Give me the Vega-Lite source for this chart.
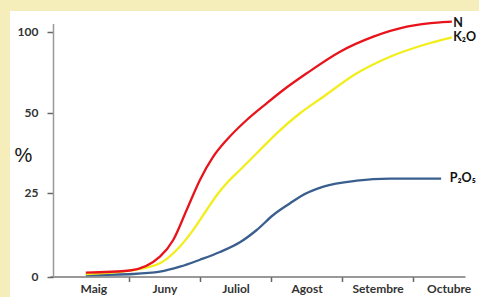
{
  "$schema": "https://vega.github.io/schema/vega-lite/v6.json",
  "width": 469,
  "height": 286,
  "autosize": {"type": "none"},
  "padding": {"left": 10, "top": 11, "right": 0, "bottom": 0},
  "background": "#f5eebb",
  "config": {
    "view": {"fill": "white", "stroke": null},
    "font": "Lato"
  },
  "datasets": {
    "curves": [
      {"series": "P₂O₅", "month": 5.394, "value": 0.45},
      {"series": "P₂O₅", "month": 6.061, "value": 0.75},
      {"series": "P₂O₅", "month": 6.437, "value": 1.43},
      {"series": "P₂O₅", "month": 6.718, "value": 2.92},
      {"series": "P₂O₅", "month": 7.0, "value": 5.0},
      {"series": "P₂O₅", "month": 7.282, "value": 7.3},
      {"series": "P₂O₅", "month": 7.563, "value": 10.2},
      {"series": "P₂O₅", "month": 7.799, "value": 13.87},
      {"series": "P₂O₅", "month": 8.032, "value": 18.35},
      {"series": "P₂O₅", "month": 8.268, "value": 21.84},
      {"series": "P₂O₅", "month": 8.408, "value": 23.81},
      {"series": "P₂O₅", "month": 8.737, "value": 26.87},
      {"series": "P₂O₅", "month": 9.207, "value": 28.74},
      {"series": "P₂O₅", "month": 9.676, "value": 29.36},
      {"series": "P₂O₅", "month": 10.394, "value": 29.36},
      {"series": "K₂O", "month": 5.394, "value": 0.75},
      {"series": "K₂O", "month": 6.014, "value": 1.73},
      {"series": "K₂O", "month": 6.437, "value": 3.94},
      {"series": "K₂O", "month": 6.672, "value": 7.91},
      {"series": "K₂O", "month": 6.906, "value": 13.93},
      {"series": "K₂O", "month": 7.094, "value": 19.84},
      {"series": "K₂O", "month": 7.258, "value": 24.82},
      {"series": "K₂O", "month": 7.376, "value": 27.93},
      {"series": "K₂O", "month": 7.563, "value": 32.08},
      {"series": "K₂O", "month": 7.799, "value": 37.28},
      {"series": "K₂O", "month": 8.08, "value": 43.52},
      {"series": "K₂O", "month": 8.408, "value": 49.76},
      {"series": "K₂O", "month": 8.737, "value": 59.75},
      {"series": "K₂O", "month": 9.207, "value": 74.2},
      {"series": "K₂O", "month": 9.676, "value": 84.44},
      {"series": "K₂O", "month": 10.145, "value": 91.67},
      {"series": "K₂O", "month": 10.545, "value": 96.42},
      {"series": "N", "month": 5.394, "value": 1.13},
      {"series": "N", "month": 6.014, "value": 1.79},
      {"series": "N", "month": 6.437, "value": 5.91},
      {"series": "N", "month": 6.624, "value": 10.89},
      {"series": "N", "month": 6.813, "value": 19.84},
      {"series": "N", "month": 7.0, "value": 28.96},
      {"series": "N", "month": 7.187, "value": 36.22},
      {"series": "N", "month": 7.376, "value": 41.43},
      {"series": "N", "month": 7.658, "value": 47.66},
      {"series": "N", "month": 7.939, "value": 55.68},
      {"series": "N", "month": 8.173, "value": 63.89},
      {"series": "N", "month": 8.503, "value": 74.2},
      {"series": "N", "month": 8.972, "value": 87.53},
      {"series": "N", "month": 9.441, "value": 96.79},
      {"series": "N", "month": 9.911, "value": 102.96},
      {"series": "N", "month": 10.38, "value": 105.68},
      {"series": "N", "month": 10.545, "value": 106.05}
    ],
    "labels": [
      {"label": "N", "month": 10.563, "value": 105.06},
      {"label": "K₂O", "month": 10.563, "value": 96.42},
      {"label": "P₂O₅", "month": 10.514, "value": 29.58}
    ]
  },
  "layer": [
    {
      "data": {"name": "curves"},
      "mark": {"type": "line", "interpolate": "monotone", "strokeWidth": 2.3},
      "encoding": {
        "x": {
          "field": "month",
          "type": "quantitative",
          "scale": {"domain": [4.89, 10.73], "range": [40, 455], "nice": false, "zero": false},
          "axis": {
            "orient": "bottom",
            "offset": -20.5,
            "title": null,
            "grid": false,
            "values": [5.5, 6, 6.5, 7, 7.5, 8, 8.5, 9, 9.5, 10, 10.5],
            "labelExpr": "datum.value % 1 === 0 ? '' : ['Maig','Juny','Juliol','Agost','Setembre','Octubre'][floor(datum.value) - 5]",
            "tickOpacity": {"condition": {"test": "datum.value % 1 !== 0", "value": 0}, "value": 1},
            "tickSize": 5,
            "tickColor": "#666",
            "tickWidth": 1.5,
            "domainColor": "#777",
            "domainWidth": 1.5,
            "labelFont": "Lato",
            "labelFontWeight": "bold",
            "labelFontSize": 12,
            "labelColor": "#333",
            "labelPadding": 2,
            "labelFlush": false,
            "labelOverlap": false,
            "labelBound": false
          }
        },
        "y": {
          "field": "value",
          "type": "quantitative",
          "scale": {"domain": [0, 25, 50, 100, 105], "range": [265.5, 181.7, 101.5, 20.5, 12.4], "nice": false, "zero": false},
          "axis": {
            "orient": "left",
            "offset": -43,
            "values": [0, 25, 50, 100],
            "grid": false,
            "title": "%",
            "titleAngle": 0,
            "titleFont": "Liberation Sans",
            "titleFontWeight": "normal",
            "titleFontSize": 20,
            "titleColor": "#111",
            "titleAlign": "center",
            "titleBaseline": "middle",
            "titleX": -30,
            "titleY": 144,
            "tickSize": 6,
            "tickColor": "#666",
            "tickWidth": 1.5,
            "domainColor": "#999",
            "domainWidth": 1.5,
            "labelFont": "Lato",
            "labelFontWeight": "bold",
            "labelFontSize": 12,
            "labelColor": "#333",
            "labelPadding": 9,
            "labelFlush": false,
            "labelOverlap": false,
            "labelBound": false
          }
        },
        "color": {
          "field": "series",
          "type": "nominal",
          "scale": {"domain": ["N", "K₂O", "P₂O₅"], "range": ["#e8141b", "#f2ee1c", "#3a5f8e"]},
          "legend": null
        },
        "order": {"field": "month", "type": "quantitative"}
      }
    },
    {
      "data": {"name": "labels"},
      "mark": {"type": "text", "align": "left", "baseline": "middle", "fontWeight": "bold", "fontSize": 12.5, "font": "Lato", "color": "#111"},
      "encoding": {
        "x": {"field": "month", "type": "quantitative"},
        "y": {"field": "value", "type": "quantitative"},
        "text": {"field": "label"}
      }
    }
  ]
}
